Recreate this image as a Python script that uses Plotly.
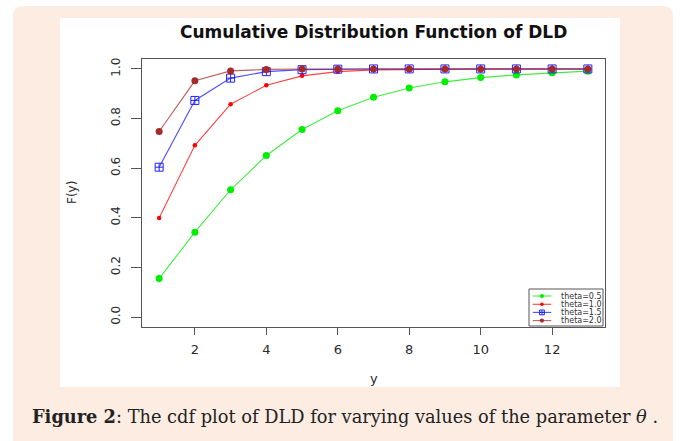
import plotly.graph_objects as go

# ---- data ----
y_vals = list(range(1, 14))
cdf_theta_05 = [0.155, 0.342, 0.513, 0.651, 0.756, 0.831, 0.886, 0.923, 0.948, 0.965, 0.976, 0.985, 0.991]
cdf_theta_10 = [0.399, 0.692, 0.858, 0.934, 0.972, 0.989, 0.996, 0.998, 0.999, 1.0, 1.0, 1.0, 1.0]
cdf_theta_15 = [0.604, 0.873, 0.963, 0.989, 0.997, 0.999, 1.0, 1.0, 1.0, 1.0, 1.0, 1.0, 1.0]
cdf_theta_20 = [0.748, 0.952, 0.992, 0.998, 1.0, 1.0, 1.0, 1.0, 1.0, 1.0, 1.0, 1.0, 1.0]
series_names = ["theta=0.5", "theta=1.0", "theta=1.5", "theta=2.0"]
x_ticks = [2, 4, 6, 8, 10, 12]
y_ticks = [0.0, 0.2, 0.4, 0.6, 0.8, 1.0]
y_tick_text = ["0.0", "0.2", "0.4", "0.6", "0.8", "1.0"]

W, H = 680, 441
L, R, T, B = 142, 605, 59, 327  # plot area in pixels


def px(x):
    return (x - L) / (R - L)


def py(y):
    return (B - y) / (B - T)


styles = [
    dict(line=dict(color="rgba(0,230,0,0.75)", width=1.1),
         marker=dict(symbol="circle", size=7, color="#00ee00")),
    dict(line=dict(color="rgba(255,0,0,0.75)", width=1.1),
         marker=dict(symbol="circle", size=4.5, color="#ff0000")),
    dict(line=dict(color="rgba(0,0,255,0.7)", width=1.1),
         marker=dict(symbol="square-cross-open", size=8, color="#2222ff", line=dict(width=1))),
    dict(line=dict(color="rgba(165,42,42,0.75)", width=1.1),
         marker=dict(symbol="circle", size=7, color="#a52a2a")),
]
data = [cdf_theta_05, cdf_theta_10, cdf_theta_15, cdf_theta_20]

fig = go.Figure()
for name, vals, st in zip(series_names, data, styles):
    fig.add_trace(go.Scatter(x=y_vals, y=vals, mode="lines+markers", name=name,
                             line=st["line"], marker=st["marker"], showlegend=False,
                             xaxis="x", yaxis="y"))

# ---- custom small legend (R style) on its own little axes ----
leg_x0, leg_x1, leg_y0, leg_y1 = 529, 603, 289, 326
row_y = [296, 304.3, 312.4, 320.6]
for name, st, ry in zip(series_names, styles, row_y):
    yy = (leg_y1 - ry) / (leg_y1 - leg_y0)
    m = dict(st["marker"])
    m["size"] = max(3.5, m["size"] * 0.6)
    fig.add_trace(go.Scatter(x=[0.05, 0.175, 0.30], y=[yy, yy, yy], mode="lines+markers",
                             line=st["line"], marker=m, selectedpoints=[1],
                             unselected=dict(marker=dict(opacity=0)),
                             showlegend=False, hoverinfo="skip", xaxis="x2", yaxis="y2"))
    fig.add_annotation(x=0.40, y=yy, xref="x2", yref="y2", text=name, showarrow=False,
                       xanchor="left", yanchor="middle",
                       font=dict(family="DejaVu Sans", size=8, color="#333333"))

shapes = []
# peach card with rounded top corners
x0, x1, y0, y1, r = px(13), px(673), py(6), py(448), 10
rx = r / (R - L)
ry_ = r / (B - T)
path = (f"M {x0},{y1} L {x0},{y0 - ry_} Q {x0},{y0} {x0 + rx},{y0} "
        f"L {x1 - rx},{y0} Q {x1},{y0} {x1},{y0 - ry_} L {x1},{y1} Z")
shapes.append(dict(type="path", path=path, xref="paper", yref="paper",
                   fillcolor="#fcece2", line=dict(width=0), layer="below"))
# white chart panel
shapes.append(dict(type="rect", xref="paper", yref="paper", x0=px(60), x1=px(620),
                   y0=py(18), y1=py(387), fillcolor="#ffffff", line=dict(width=0), layer="below"))
# legend box
shapes.append(dict(type="rect", xref="paper", yref="paper", x0=px(leg_x0), x1=px(leg_x1),
                   y0=py(leg_y1), y1=py(leg_y0), fillcolor="rgba(255,255,255,0)",
                   line=dict(color="#555555", width=1), layer="below"))

fig.update_layout(
    width=W, height=H,
    margin=dict(l=L, r=W - R, t=T, b=H - B, pad=0),
    paper_bgcolor="#ffffff",
    plot_bgcolor="rgba(0,0,0,0)",
    shapes=shapes,
    xaxis=dict(range=[0.52, 13.48], tickvals=x_ticks, ticks="outside", ticklen=7,
               tickcolor="#555555", showline=True, mirror=True, linecolor="#555555",
               linewidth=1, showgrid=False, zeroline=False, ticklabelstandoff=3,
               tickfont=dict(family="DejaVu Sans", size=13, color="#2a2a2a")),
    yaxis=dict(range=[-0.04, 1.04], tickvals=y_ticks, ticktext=y_tick_text, ticks="outside",
               ticklen=10, tickcolor="#555555", showline=True, mirror=True,
               linecolor="#555555", linewidth=1, showgrid=False, zeroline=False,
               tickangle=-90, ticklabelstandoff=6,
               tickfont=dict(family="DejaVu Sans", size=12, color="#2a2a2a")),
    xaxis2=dict(domain=[px(leg_x0), px(leg_x1)], range=[0, 1], visible=False,
                anchor="y2", fixedrange=True),
    yaxis2=dict(domain=[py(leg_y1), py(leg_y0)], range=[0, 1], visible=False,
                anchor="x2", fixedrange=True),
    showlegend=False,
)

# title, axis titles and caption
fig.add_annotation(x=px(373.5), y=py(32), xref="paper", yref="paper",
                   text="<b>Cumulative Distribution Function of DLD</b>", showarrow=False,
                   xanchor="center", yanchor="middle",
                   font=dict(family="DejaVu Sans", size=17, color="#111111"))
fig.add_annotation(x=px(72), y=py(193), xref="paper", yref="paper", text="F(y)",
                   showarrow=False, textangle=-90, xanchor="center", yanchor="middle",
                   font=dict(family="DejaVu Sans", size=12, color="#2a2a2a"))
fig.add_annotation(x=px(373.5), y=py(378), xref="paper", yref="paper", text="y",
                   showarrow=False, xanchor="center", yanchor="middle",
                   font=dict(family="DejaVu Sans", size=13, color="#2a2a2a"))
fig.add_annotation(x=px(30), y=py(416), xref="paper", yref="paper",
                   text="<b>Figure 2</b>: The cdf plot of DLD for varying values of the parameter <i>θ</i> .",
                   showarrow=False, xanchor="left", yanchor="middle",
                   font=dict(family="DejaVu Serif", size=17.8, color="#222222"))

fig.write_html("out.html", config={"displayModeBar": False},
               post_script="document.body.style.margin='0px';")
